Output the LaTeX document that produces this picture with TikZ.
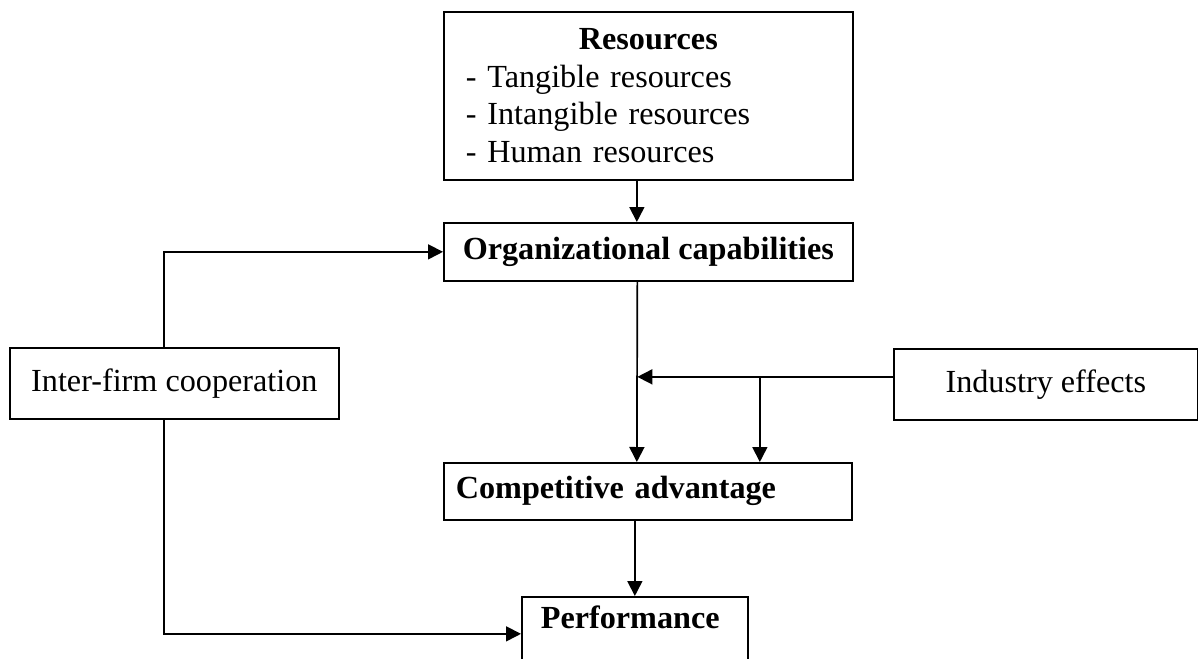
\documentclass[tikz,border=0pt]{standalone}
\usepackage{fontspec}
\setmainfont{Liberation Serif}
\usetikzlibrary{arrows.meta,positioning}
\tikzset{
  block/.style={
    draw,
    line width=1.7pt,
    inner sep=0pt,
    anchor=north west,
    font=\fontsize{32.2}{37.5}\selectfont
  },
  boldblock/.style={
    block,
    font=\fontsize{32.2}{37.5}\selectfont\bfseries
  },
  conn/.style={
    line width=1.7pt,
    -{Triangle[length=15pt,width=15pt]}
  }
}

\begin{document}
\begin{tikzpicture}[x=1pt,y=-1pt]
        \useasboundingbox (0,0) rectangle (1198,658);
        % boxes
        \node[block,minimum width=409pt,minimum height=168pt,text width=365pt,align=left] (res) at (443,11)
            {\makebox[365pt]{\textbf{Resources}}\\- Tangible resources\\- Intangible resources\\- Human resources};
        \node[boldblock,minimum width=409pt,minimum height=58pt] (org) at (443,222) {Organizational capabilities};
        \node[boldblock,minimum width=408pt,minimum height=57pt,text width=384pt,align=left] (comp) at (443,462) {Competitive advantage};
        \node[boldblock,minimum width=226pt,text width=188pt,align=left,text height=32pt,text depth=42pt] (perf) at (521,596) {Performance};
        \node[block,minimum width=329pt,minimum height=71pt] (coop) at (9,347) {Inter-firm cooperation};
        \node[block,minimum width=304pt,minimum height=71pt] (ind) at (893,348) {Industry effects};
        % connectors
        \coordinate (oc) at ([xshift=-11pt]org.south);
        \coordinate (ie) at ([yshift=7.5pt]ind.west);
        \coordinate (ca) at ([xshift=112pt]comp.north);
        \draw[conn] ([xshift=-11.5pt]res.south) -- ([xshift=-11.5pt]org.north);
        \draw[conn] (oc) -- ([xshift=-11pt]comp.north);
        \draw[conn] (ie) -- (oc |- ie);
        \draw[conn] (ca |- ie) -- (ca);
        \draw[conn] (perf.north |- comp.south) -- (perf.north);
        \draw[conn] ([xshift=-10.5pt]coop.north) |- (org.west);
        \draw[conn] ([xshift=-10.5pt]coop.south) |- (perf.west);
\end{tikzpicture}
\end{document}
